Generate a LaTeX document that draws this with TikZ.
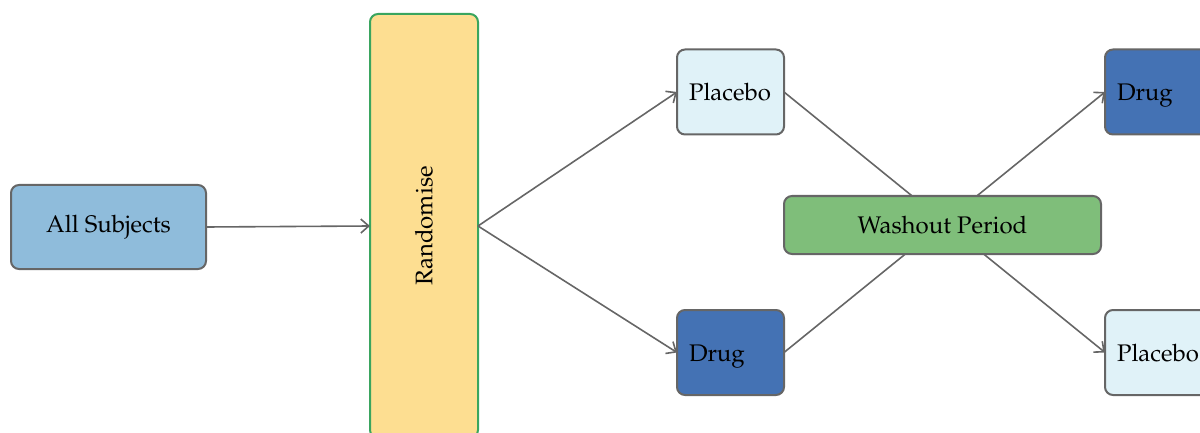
\documentclass[tikz,border=0pt]{standalone}
\usepackage{mathpazo}
\usepackage[T1]{fontenc}
\usetikzlibrary{arrows.meta}
\definecolor{edgegray}{HTML}{666666}
\definecolor{subjblue}{HTML}{8FBCDB}
\definecolor{randfill}{HTML}{FDDE91}
\definecolor{randedge}{HTML}{3AA55F}
\definecolor{placebofill}{HTML}{E0F2F8}
\definecolor{drugfill}{HTML}{4472B4}
\definecolor{washfill}{HTML}{7FBE7A}
\tikzset{
  labelfont/.style={font=\fontsize{12}{14}\selectfont},
  box/.style={draw=edgegray, line width=1pt, rounded corners=4pt, inner sep=0pt,
    outer sep=0pt, labelfont},
  armbox/.style={box, minimum height=42.5pt, text width=41.5pt, inner xsep=6pt,
    align=left, text height=8.5pt, text depth=0pt},
  placebobox/.style={armbox, fill=placebofill},
  drugbox/.style={armbox, fill=drugfill},
  link/.style={draw=edgegray, line width=0.8pt, -{Straight Barb[length=4pt,width=7pt]}}
}
\begin{document}
\begin{tikzpicture}[x=0.5pt, y=-0.5pt]
  \useasboundingbox (0,0) rectangle (1200,433);
  \clip (0,0) rectangle (1200,433);
  % enrolment and randomisation
  \node[box, fill=subjblue, minimum width=97.5pt, minimum height=42pt] (all) at (108.5,227) {All Subjects};
  \node[box, draw=randedge, fill=randfill, minimum width=54pt, minimum height=212pt] (rand) at (424,226) {};
  \node[labelfont, rotate=90] (randlbl) at (rand.center) {Randomise};
  % first period
  \node[placebobox] (p1) at (730.5,92) {Placebo};
  \node[drugbox] (d1) at (730.5,352.5) {Drug};
  % second period
  \node[drugbox] (d2) at (1158.5,92) {Drug};
  \node[placebobox] (p2) at (1158.5,352.5) {Placebo};
  % crossover lines, passing under the washout box
  \draw[link] (p1.east) -- (p2.west);
  \draw[link] (d1.east) -- (d2.west);
  \node[box, fill=washfill, minimum width=158.5pt, minimum height=29pt] (wash) at (942.5,225) {Washout Period};
  % allocation arrows
  \draw[link] (all.east) -- (rand.west);
  \draw[link] (rand.east) -- (p1.west);
  \draw[link] (rand.east) -- (d1.west);
\end{tikzpicture}
\end{document}
